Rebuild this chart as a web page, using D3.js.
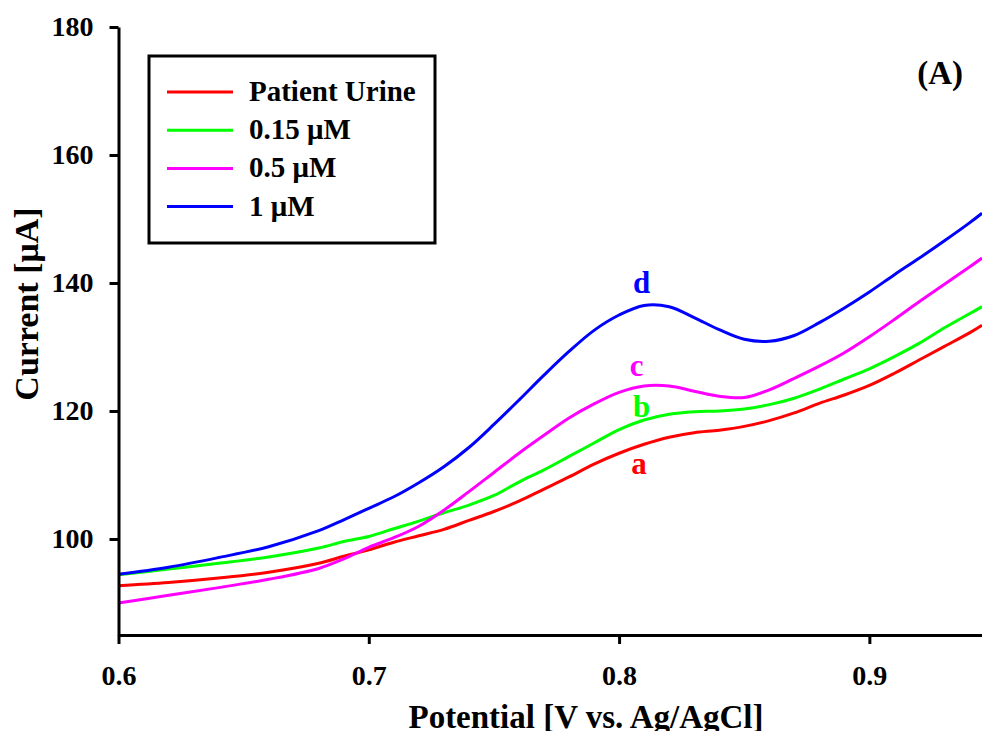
<!DOCTYPE html>
<html>
<head>
<meta charset="utf-8">
<script src="https://cdn.jsdelivr.net/npm/d3@7"></script>
<style>
  html, body { margin: 0; padding: 0; background: #fff; }
  svg { display: block; }
  text { font-family: "Liberation Serif", "Times New Roman", Times, serif; font-weight: bold; }
</style>
</head>
<body>
<svg id="chart" width="982" height="731"></svg>
<script>
// ---- data ----
const potential = [0.60, 0.62, 0.64, 0.66, 0.68, 0.69, 0.70, 0.71, 0.72, 0.73, 0.74, 0.75, 0.76, 0.77, 0.78, 0.79, 0.80, 0.81, 0.82, 0.83, 0.84, 0.85, 0.86, 0.87, 0.88, 0.89, 0.90, 0.91, 0.92, 0.93, 0.94, 0.945];
const urine   = [92.7, 93.2, 93.9, 94.8, 96.2, 97.3, 98.3, 99.5, 100.5, 101.5, 102.9, 104.3, 105.9, 107.8, 109.7, 111.7, 113.4, 114.8, 115.9, 116.6, 117.0, 117.6, 118.5, 119.7, 121.2, 122.5, 124.0, 125.9, 128.0, 130.1, 132.2, 133.4];
const c015    = [94.4, 95.3, 96.2, 97.2, 98.6, 99.6, 100.4, 101.6, 102.8, 104.1, 105.3, 106.8, 108.9, 110.8, 112.9, 115.0, 117.1, 118.6, 119.5, 119.9, 120.0, 120.3, 121.0, 122.0, 123.4, 125.0, 126.6, 128.5, 130.6, 133.0, 135.2, 136.3];
const c05     = [90.0, 91.2, 92.4, 93.7, 95.4, 96.9, 98.7, 100.2, 102.0, 104.5, 107.4, 110.4, 113.4, 116.2, 118.9, 121.1, 122.9, 123.9, 123.9, 123.1, 122.3, 122.1, 123.3, 125.1, 127.0, 129.1, 131.6, 134.3, 137.1, 139.8, 142.5, 143.9];
const c1      = [94.5, 95.6, 97.1, 98.8, 101.3, 103.0, 104.8, 106.6, 108.8, 111.3, 114.3, 117.9, 121.7, 125.6, 129.3, 132.6, 135.0, 136.5, 136.3, 134.6, 132.7, 131.2, 130.9, 131.8, 133.8, 136.1, 138.6, 141.3, 143.9, 146.6, 149.4, 150.9];

const seriesNames  = ["Patient Urine", "0.15 \u03BCM", "0.5 \u03BCM", "1 \u03BCM"];
const seriesValues = [urine, c015, c05, c1];
const seriesColors = ["#ff0000", "#00ff00", "#ff00ff", "#0000ff"];
const curveLetters = ["a", "b", "c", "d"];
const letterAt     = [[0.808, 110.2], [0.809, 119.1], [0.807, 125.4], [0.809, 138.4]];

const xTicks = [0.6, 0.7, 0.8, 0.9];
const yTicks = [100, 120, 140, 160, 180];
const xDomain = [0.6, 0.945];
const yDomain = [85, 180];

// ---- layout ----
const svg = d3.select("#chart");
const L = 118.5, R = 982, T = 27, B = 635;

const x = d3.scaleLinear().domain(xDomain).range([L, R]);
const y = d3.scaleLinear().domain(yDomain).range([B, T]);

// lines
const line = d3.line()
  .x(d => x(d[0]))
  .y(d => y(d[1]))
  .curve(d3.curveCatmullRom.alpha(0.5));

seriesValues.forEach((vals, i) => {
  svg.append("path")
    .datum(potential.map((p, j) => [p, vals[j]]))
    .attr("d", line)
    .attr("fill", "none")
    .attr("stroke", seriesColors[i])
    .attr("stroke-width", 3)
    .attr("stroke-linejoin", "round");
});

// axes
const yAxis = d3.axisLeft(y).tickValues(yTicks).tickFormat(d3.format("d"))
  .tickSize(9).tickSizeOuter(0).tickPadding(16);
const gy = svg.append("g").attr("transform", `translate(${L},0)`).call(yAxis);

const xAxis = d3.axisBottom(x).tickValues(xTicks).tickFormat(d3.format(".1f"))
  .tickSize(9).tickSizeOuter(0).tickPadding(21);
const gx = svg.append("g").attr("transform", `translate(0,${B})`).call(xAxis);

[gx, gy].forEach(g => {
  g.select(".domain").attr("stroke", "#000").attr("stroke-width", 3);
  g.selectAll(".tick line").attr("stroke", "#000").attr("stroke-width", 3);
  g.selectAll(".tick text")
    .attr("fill", "#000")
    .style("font-family", '"Liberation Serif", "Times New Roman", serif')
    .style("font-weight", "bold")
    .style("font-size", "28px");
});

// axis titles
svg.append("text")
  .attr("x", 586).attr("y", 728)
  .attr("text-anchor", "middle")
  .style("font-size", "33px")
  .text("Potential [V vs. Ag/AgCl]");

svg.append("text")
  .attr("transform", "translate(38,304) rotate(-90)")
  .attr("text-anchor", "middle")
  .style("font-size", "34px")
  .text("Current [\u03BCA]");

// panel label
svg.append("text")
  .attr("x", 963).attr("y", 84)
  .attr("text-anchor", "end")
  .style("font-size", "33px")
  .text("(A)");

// curve letters
curveLetters.forEach((t, i) => {
  svg.append("text")
    .attr("x", x(letterAt[i][0])).attr("y", y(letterAt[i][1]))
    .attr("text-anchor", "middle")
    .attr("fill", seriesColors[i])
    .style("font-size", "31px")
    .text(t);
});

// legend
const lg = svg.append("g");
lg.append("rect")
  .attr("x", 149).attr("y", 56).attr("width", 286).attr("height", 187)
  .attr("fill", "#fff").attr("stroke", "#000").attr("stroke-width", 3);
seriesNames.forEach((n, i) => {
  const yy = 92 + i * 38.2;
  lg.append("line")
    .attr("x1", 167).attr("x2", 233).attr("y1", yy).attr("y2", yy)
    .attr("stroke", seriesColors[i]).attr("stroke-width", 3);
  lg.append("text")
    .attr("x", 249).attr("y", yy + 9)
    .style("font-size", "29px")
    .text(n);
});
</script>
</body>
</html>
